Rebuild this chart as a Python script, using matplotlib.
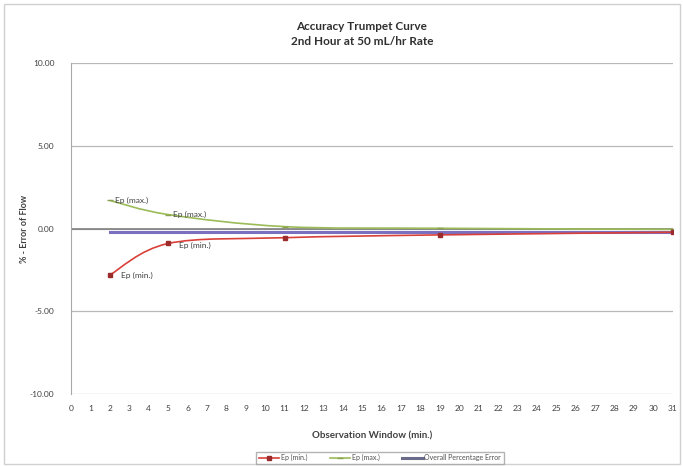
import matplotlib.pyplot as plt
import numpy as np
from matplotlib.path import Path
from matplotlib.patches import PathPatch, Rectangle
from matplotlib.lines import Line2D

plt.rcParams['font.family'] = ['Lato', 'DejaVu Sans']

# Data
window = [2, 5, 11, 19, 31]
ep_min = [-2.80, -0.90, -0.55, -0.38, -0.22]
ep_max = [1.70, 0.85, 0.12, 0.02, -0.05]
overall_x = [2, 31]
overall_err = [-0.18, -0.18]

yticks = [-10, -5, 0, 5, 10]
ytick_labels = ["-10.00", "-5.00", "0.00", "5.00", "10.00"]
xticks = list(range(0, 32))


def smooth_path(xs, ys, t=1 / 6):
    # Excel-style smoothed line: cubic Bezier through the points
    pts = np.column_stack([xs, ys]).astype(float)
    verts = [pts[0]]
    codes = [Path.MOVETO]
    n = len(pts)
    for i in range(n - 1):
        p0 = pts[i - 1] if i > 0 else pts[i]
        p1, p2 = pts[i], pts[i + 1]
        p3 = pts[i + 2] if i + 2 < n else pts[i + 1]
        c1 = p1 + (p2 - p0) * t
        c2 = p2 - (p3 - p1) * t
        verts += [c1, c2, p2]
        codes += [Path.CURVE4] * 3
    return Path(verts, codes)


fig = plt.figure(figsize=(6.83, 4.67), dpi=100)
ax = fig.add_axes([0.104, 0.156, 0.881, 0.709])

fig.patches.append(Rectangle((0.006, 0.006), 0.99, 0.985, transform=fig.transFigure,
                             fill=False, edgecolor="#d0d0d0", linewidth=1))

ax.set_xlim(0, 31)
ax.set_ylim(-10, 10)
ax.set_yticks(yticks)
ax.set_yticklabels(ytick_labels)
ax.set_xticks(xticks)
ax.tick_params(length=0, labelsize=6, colors="#404040")
ax.tick_params(axis="x", pad=8)
ax.tick_params(axis="y", pad=12)
ax.grid(axis="y", color="#b8b8b8", linewidth=0.9)
for s in ["top", "right", "bottom"]:
    ax.spines[s].set_visible(False)
ax.spines["left"].set_color("#a8a8a8")
ax.axhline(0, color="#808080", linewidth=1.2, zorder=2)

red, red_dark = "#d9403a", "#9c2b2b"
green, green_dark = "#9bbb59", "#8aa050"
purple = "#7b6fc0"

ax.plot(overall_x, overall_err, color=purple, linewidth=2.2, zorder=3)
ax.add_patch(PathPatch(smooth_path(window, ep_max), fill=False, edgecolor=green, linewidth=1.2, zorder=4))
ax.add_patch(PathPatch(smooth_path(window, ep_min), fill=False, edgecolor=red, linewidth=1.2, zorder=4))
ax.plot(window, ep_max, linestyle="none", marker="_", markersize=5, color=green_dark, zorder=5)
ax.plot(window, ep_min, linestyle="none", marker="s", markersize=3.2, color=red_dark, zorder=5)

lab = dict(fontsize=6, color="#404040", zorder=6)
ax.text(window[0] + 0.25, ep_max[0], "Ep (max.)", va="center", **lab)
ax.text(window[1] + 0.25, ep_max[1], "Ep (max.)", va="center", **lab)
ax.text(window[0] + 0.55, ep_min[0], "Ep (min.)", va="center", **lab)
ax.text(window[1] + 0.55, ep_min[1] - 0.1, "Ep (min.)", va="center", **lab)

ax.set_ylabel("% - Error of Flow", fontsize=6.5, fontweight="bold", color="#404040")
ax.yaxis.set_label_coords(-0.07, 0.5)
ax.set_xlabel("Observation Window (min.)", fontsize=7, fontweight="bold", color="#404040", labelpad=14)
fig.text(0.53, 0.955, "Accuracy Trumpet Curve\n2nd Hour at 50 mL/hr Rate", ha="center", va="top",
         fontsize=8.5, fontweight="bold", color="#303030", linespacing=1.4)

handles = [
    Line2D([], [], color=red, marker="s", markersize=3, markerfacecolor=red_dark, markeredgecolor=red_dark, linewidth=1.2),
    Line2D([], [], color=green, marker="_", markersize=4, markeredgecolor=green_dark, linewidth=1.2),
    Line2D([], [], color="#6a6a8a", linewidth=2.2),
]
fig.legend(handles, ["Ep (min.)", "Ep (max.)", "Overall Percentage Error"], loc="center",
           bbox_to_anchor=(0.556, 0.0195), ncol=3, fontsize=5, frameon=True, fancybox=False,
           edgecolor="#a0a0a0", handlelength=3, columnspacing=3.2, borderpad=0.4,
           handletextpad=0.2, labelcolor="#505050")

fig.savefig("out.png", dpi=100)
